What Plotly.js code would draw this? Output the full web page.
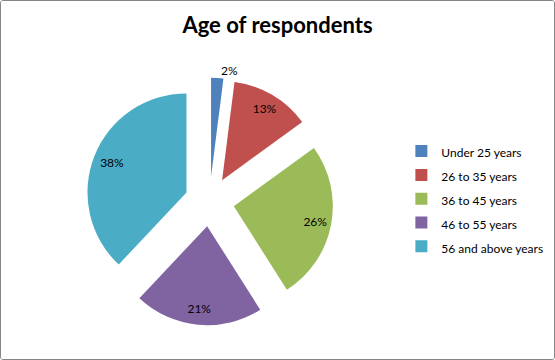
<!DOCTYPE html>
<html>
<head>
<meta charset="utf-8">
<script src="https://cdn.plot.ly/plotly-3.0.1.min.js"></script>
<style>
  html, body { margin: 0; padding: 0; background: #fff; }
  #frame { width: 555px; height: 360px; box-sizing: border-box; border: 1px solid #868686; border-radius: 3px; overflow: hidden; }
  #chart { width: 553px; height: 358px; }
</style>
</head>
<body>
<div id="frame"><div id="chart"></div></div>
<script>
const categories = ["Under 25 years", "26 to 35 years", "36 to 45 years", "46 to 55 years", "56 and above years"];
const values = [2, 13, 26, 21, 38];
const colors = ["#4F81BD", "#C0504D", "#9BBB59", "#8064A2", "#4BACC6"];
const chartTitle = "Age of respondents";

const FONT = "Lato, 'Open Sans', sans-serif";
const W = 553, H = 358;
// pie placement (pixels inside plot) and explosion
const CX = 208.5, CY = 200.5, R = 99;
const PULL = 0.25;
// label-only overlay: per-slice pulls to push percentage labels outward like the original
const LABEL_PULL = [0.25, 0.378, 0.51, 0.465, 0.54];

function domainFor(maxPull) {
  const half = R * (1 + maxPull);
  const cyb = H - CY;
  return { x: [(CX - half) / W, (CX + half) / W], y: [(cyb - half) / H, (cyb + half) / H] };
}

const legendLabels = categories.map(c => '<span style="font-size:12px">' + c + '</span>');

const pieTrace = {
  type: "pie",
  labels: legendLabels,
  values: values,
  sort: false,
  direction: "clockwise",
  rotation: 0,
  pull: PULL,
  marker: { colors: colors, line: { width: 0 } },
  texttemplate: "%{percent:.0%}",
  textposition: ["outside", "none", "none", "none", "none"],
  textfont: { family: FONT, size: 12, color: "#000000" },
  hoverinfo: "none",
  domain: domainFor(PULL),
  automargin: false
};

const labelTrace = {
  type: "pie",
  labels: legendLabels,
  values: values,
  sort: false,
  direction: "clockwise",
  rotation: 0,
  pull: LABEL_PULL,
  marker: { colors: values.map(() => "rgba(0,0,0,0)"), line: { width: 0 } },
  texttemplate: "%{percent:.0%}",
  textposition: ["none", "inside", "inside", "inside", "inside"],
  insidetextorientation: "horizontal",
  textfont: { family: FONT, size: 12, color: "#000000" },
  hoverinfo: "none",
  showlegend: false,
  domain: domainFor(Math.max(...LABEL_PULL)),
  automargin: false
};

const layout = {
  width: W,
  height: H,
  margin: { l: 0, r: 0, t: 0, b: 0 },
  paper_bgcolor: "#ffffff",
  plot_bgcolor: "#ffffff",
  font: { family: FONT, color: "#000000" },
  title: {
    text: chartTitle,
    x: 0.5, xanchor: "center",
    y: 1 - 24 / 358, yanchor: "middle",
    font: { family: FONT, size: 22, color: "#000000", weight: "bold" }
  },
  showlegend: true,
  legend: {
    x: 0.724, xanchor: "left",
    y: 0.628, yanchor: "top",
    font: { family: FONT, size: 16, color: "#000000" },
    bgcolor: "rgba(0,0,0,0)"
  }
};

Plotly.newPlot("chart", [pieTrace, labelTrace], layout, { displayModeBar: false, staticPlot: true });
</script>
</body>
</html>
